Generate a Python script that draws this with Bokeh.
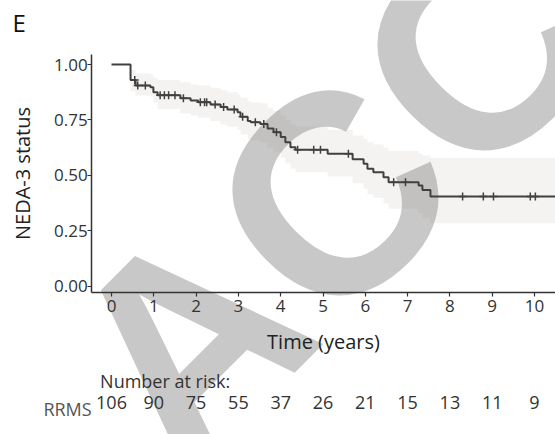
import numpy as np
from bokeh.plotting import figure
from bokeh.core.properties import value
from bokeh.models import Label, LabelSet, ColumnDataSource, Range1d, FixedTicker, NumeralTickFormatter, LinearAxis
from bokeh.embed import file_html
from bokeh.resources import INLINE

# --- data ---
times = [0, 0.45, 0.57, 0.92, 0.99, 1.09, 1.63, 1.87, 2.05, 2.34, 2.58, 2.74, 2.98, 3.05, 3.22, 3.29,
         3.52, 3.69, 3.83, 4.00, 4.11, 4.23, 4.35, 5.11, 5.70, 5.96, 6.05, 6.19, 6.43, 6.55, 7.26, 7.35,
         7.54, 10.5]
surv = [1.0, 0.93, 0.905, 0.898, 0.875, 0.862, 0.848, 0.838, 0.830, 0.820, 0.808, 0.797, 0.785, 0.765,
        0.745, 0.740, 0.732, 0.712, 0.695, 0.673, 0.650, 0.627, 0.616, 0.598, 0.573, 0.553, 0.530, 0.515,
        0.492, 0.470, 0.455, 0.435, 0.405, 0.405]
upper = [1.0, 0.975, 0.96, 0.955, 0.94, 0.93, 0.92, 0.91, 0.905, 0.895, 0.885, 0.875, 0.865, 0.85, 0.835,
         0.83, 0.825, 0.805, 0.79, 0.77, 0.75, 0.73, 0.72, 0.705, 0.68, 0.665, 0.65, 0.64, 0.625, 0.61,
         0.60, 0.59, 0.58, 0.58]
lower = [1.0, 0.88, 0.86, 0.855, 0.83, 0.80, 0.78, 0.77, 0.76, 0.745, 0.73, 0.72, 0.705, 0.685, 0.665,
         0.66, 0.65, 0.625, 0.605, 0.58, 0.555, 0.53, 0.515, 0.495, 0.465, 0.44, 0.415, 0.40, 0.375, 0.35,
         0.33, 0.31, 0.285, 0.285]
censor_times = [0.55, 0.62, 0.8, 1.15, 1.25, 1.35, 1.5, 1.7, 2.1, 2.2, 2.25, 2.45, 2.65, 2.9, 3.1, 3.4,
                3.6, 3.9, 4.40, 4.78, 4.94, 5.6, 6.67, 6.95, 8.30, 8.79, 9.03, 9.9, 10.02]
risk_times = [0, 1, 2, 3, 4, 5, 6, 7, 8, 9, 10]
risk_counts = ["106", "90", "75", "55", "37", "26", "21", "15", "13", "11", "9"]
x_ticks = [0, 1, 2, 3, 4, 5, 6, 7, 8, 9, 10]
y_ticks = [0, 0.25, 0.5, 0.75, 1.0]

FONT = "Open Sans"
X_LO, X_HI = -0.47, 10.5      # extent of the plotted panel (axis bounds)
Y_LO, Y_HI = -0.027, 1.045

# The frame spans the whole canvas so that texts below/left of the panel are not clipped;
# the axes are placed at fixed data locations at the panel's edges.
p = figure(width=555, height=434, output_backend="svg", toolbar_location=None,
           x_range=Range1d(-2.624, 10.496), y_range=Range1d(-0.6667, 1.2883),
           x_axis_type=None, y_axis_type=None,
           min_border_left=0, min_border_right=0, min_border_top=0, min_border_bottom=0)
p.outline_line_color = None
p.background_fill_color = "white"
p.border_fill_color = "white"

# watermark (behind everything)
wm = Label(x=5.2, y=0.405, text="ACC", angle=np.pi / 4, text_align="center", text_baseline="middle",
           text_font="Liberation Sans", text_font_style="bold", text_font_size="284px",
           text_color="#c8c8c8", level="underlay")
p.add_layout(wm)

# confidence band
p.varea_step(x=times, y1=lower, y2=upper, step_mode="after", fill_color="#a08a80", fill_alpha=0.1)

# KM step line
p.step(x=times, y=surv, mode="after", line_color="#404040", line_width=2)

# censor marks
t_arr = np.array(times)
s_arr = np.array(surv)
idx = np.searchsorted(t_arr, np.array(censor_times), side="right") - 1
p.scatter(x=censor_times, y=s_arr[idx], marker="cross", size=8, line_color="#404040", line_width=1.5)

# axes
xaxis = LinearAxis(fixed_location=Y_LO, bounds=(X_LO, X_HI), ticker=FixedTicker(ticks=x_ticks),
                   axis_label="Time (years)")
yaxis = LinearAxis(fixed_location=X_LO, bounds=(Y_LO, Y_HI), ticker=FixedTicker(ticks=y_ticks),
                   formatter=NumeralTickFormatter(format="0.00"), axis_label="NEDA-3 status")
for ax in (xaxis, yaxis):
    ax.axis_line_color = "#333333"
    ax.axis_line_width = 1.5
    ax.major_tick_line_color = "#333333"
    ax.major_tick_line_width = 1.2
    ax.major_tick_in = 0
    ax.major_tick_out = 4
    ax.minor_tick_line_color = None
    ax.major_label_text_font = FONT
    ax.major_label_text_font_size = "17px"
    ax.major_label_text_color = "#333333"
    ax.axis_label_text_font = FONT
    ax.axis_label_text_font_size = "20px"
    ax.axis_label_text_font_style = "normal"
    ax.axis_label_text_color = "#222222"
xaxis.major_label_standoff = 4
yaxis.major_label_standoff = 0
xaxis.axis_label_standoff = 12
yaxis.axis_label_standoff = 15
p.add_layout(xaxis, "below")
p.add_layout(yaxis, "left")

# panel letter
p.add_layout(Label(x=-2.34, y=1.19, text="E", text_font=FONT, text_font_size="24px",
                   text_color="#111111", text_baseline="alphabetic"))

# number at risk table
p.add_layout(Label(x=-0.27, y=-0.425, text="Number at risk:", text_font=FONT, text_font_size="18px",
                   text_color="#333333", text_baseline="alphabetic"))
p.add_layout(Label(x=-1.61, y=-0.553, text="RRMS", text_font=FONT, text_font_size="18px",
                   text_color="#555555", text_baseline="alphabetic"))
risk_src = ColumnDataSource(dict(x=risk_times, y=[-0.553] * len(risk_times), t=risk_counts))
p.add_layout(LabelSet(x="x", y="y", text="t", source=risk_src, text_font=value(FONT),
                      text_font_size=value("18px"), text_color="#333333", text_align="center",
                      text_baseline="alphabetic"))

open("out.html", "w").write(file_html(p, INLINE))
